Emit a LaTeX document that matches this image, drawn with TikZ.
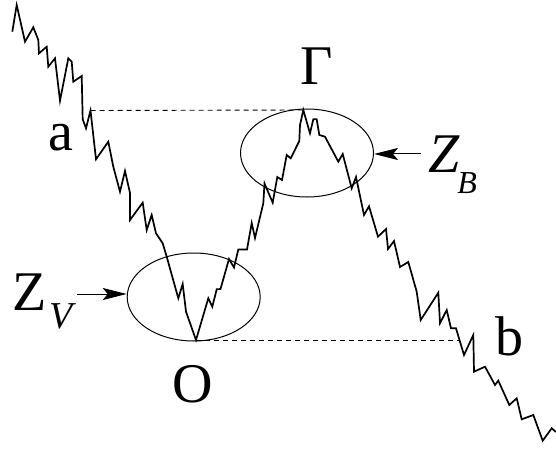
\documentclass[tikz,border=0pt]{standalone}
\usepackage{fontspec}
\newfontfamily\tms{LiberationSerif}[Extension=.ttf,UprightFont=*-Regular,ItalicFont=*-Italic,BoldFont=*-Bold]
\usetikzlibrary{arrows.meta,shapes.geometric}
\begin{document}
\begin{tikzpicture}[x=1pt,y=-1pt,
  walk/.style={line width=1.7pt,line join=miter},
  guide/.style={line width=0.9pt,dash pattern=on 5pt off 4pt},
  zone/.style={draw,ellipse,line width=1pt,inner sep=0pt},
  arr/.style={line width=1pt,-{Stealth[length=24pt,width=12pt,inset=5pt]}},
  lbl/.style={inner sep=0pt,font=\tms\fontsize{56}{60}\selectfont}]
\useasboundingbox (0,0) rectangle (556,457);
% key points
\coordinate (pa) at (90.5,110.5);
\coordinate (pO) at (196,340);
\coordinate (pG) at (303.3,110);
\coordinate (pb) at (459.5,340);
% zones
\node[zone,minimum width=133pt,minimum height=88pt] (ZVe) at (193.7,297) {};
\node[zone,minimum width=133pt,minimum height=88pt] (ZBe) at (307,153) {};
% dashed levels
\draw[guide] (pa) -- (pG);
\draw[guide] (pO) -- (pb);
% random walk
\draw[walk] (12.3,31.7) -- (16.7,5) -- (25,41.7) -- (33.3,27.3) -- (38.3,40) -- (39,53.3)
 -- (46.7,46.7) -- (48.3,66.7) -- (55,58.3) -- (60,100.7) -- (68.3,58.3) -- (71.7,61.7)
 -- (73.3,81.7) -- (81.7,76) -- (82.7,119.3) -- (86,128.3) -- (pa) -- (96,159.3)
 -- (108.3,141.7) -- (113.3,166.7) -- (120,191.7) -- (125,171) -- (130,193) -- (130,220)
 -- (142.7,202.7) -- (146.7,230) -- (151.7,215) -- (156,233.3) -- (162.7,243.3)
 -- (166.7,256.7) -- (178.3,298.3) -- (182.7,284) -- (186,311.7) -- (pO)
 -- (208.3,298.3) -- (212.3,306.7) -- (216.7,289.3) -- (220.5,289) -- (229,259)
 -- (234,267.5) -- (238.3,249.5) -- (247,249.5) -- (251.7,223) -- (255,238)
 -- (263.3,203.3) -- (264.5,183.5) -- (272.7,202.7) -- (277.3,177) -- (282,180)
 -- (286.7,155) -- (290.7,158.3) -- (299.3,141) -- (300,125) -- (pG) -- (310,133.3)
 -- (313.3,119.3) -- (316.7,119.3) -- (319.3,135) -- (325,136.7) -- (338.3,161.7)
 -- (342.7,154) -- (351.7,188.3) -- (356,177) -- (364,215) -- (369,206.3)
 -- (378,236.7) -- (386,229) -- (388,249) -- (394,241) -- (400,267) -- (408.3,262)
 -- (416.7,291.7) -- (420.7,320) -- (438.3,292.7) -- (440,323.3) -- (446.7,310)
 -- (451,328.3) -- (456,328.3) -- (pb) -- (464,355) -- (473.3,335) -- (474,371.7)
 -- (485,366.7) -- (495,385) -- (498.3,380.7) -- (509.3,405) -- (516.7,398.3)
 -- (521.7,419.3) -- (533.3,415) -- (542.7,440.7) -- (551.7,428.3) -- (556,432);
% labels
\node[lbl,anchor=base] (la) at (60.5,150) {a};
\node[lbl,anchor=base] (lb) at (509,355) {b};
\node[lbl,anchor=base] (lO) at (193,402) {O};
\node[lbl,anchor=base] (lG) at (317,85) {Γ};
\node[lbl,anchor=base west] (zv) at (12,310) {Z\kern3pt\raisebox{-18pt}{\fontsize{38}{40}\selectfont\itshape V}};
\node[lbl,anchor=base west] (zb) at (428,172.7) {\itshape Z\kern-2pt\raisebox{-20.6pt}{\fontsize{32}{34}\selectfont B}};
% arrows
\coordinate (zvs) at (77,294);
\coordinate (zbs) at (421,154);
\draw[arr] (zvs) -- (zvs -| ZVe.west);
\draw[arr] (zbs) -- (zbs -| ZBe.east);
\end{tikzpicture}
\end{document}
